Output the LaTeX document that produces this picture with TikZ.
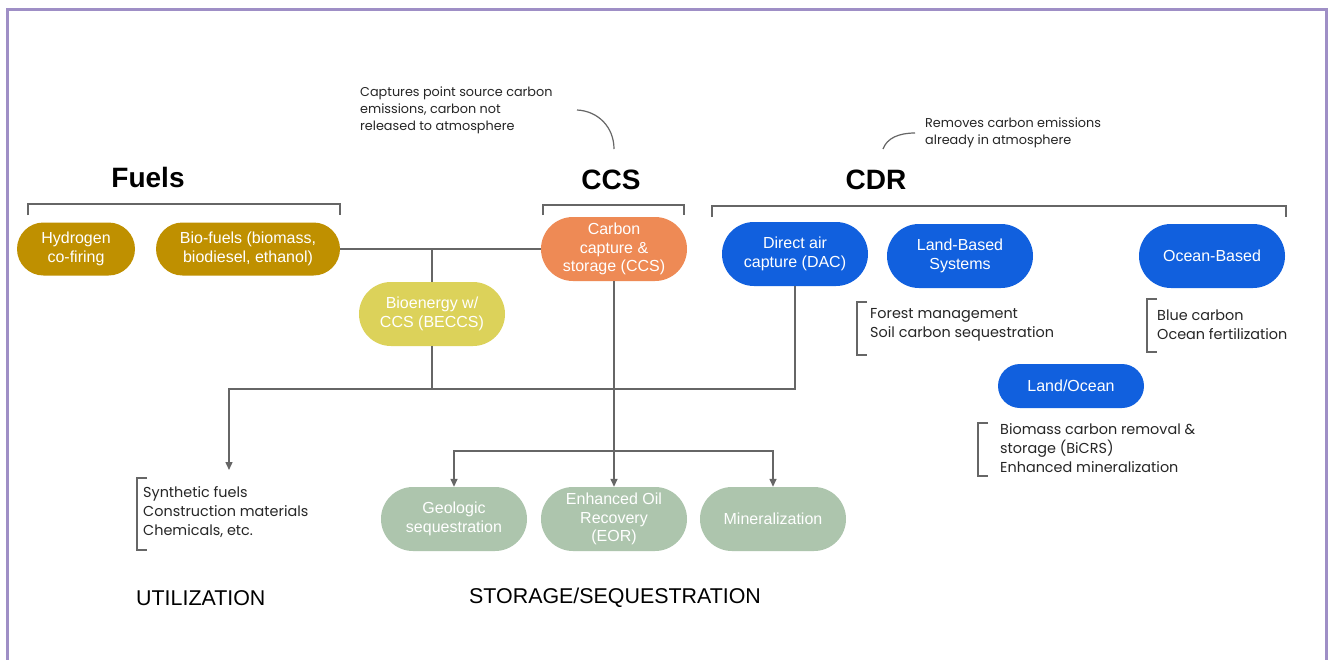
\documentclass[tikz,border=0pt]{standalone}
\usepackage{fontspec}
\setmainfont{Liberation Sans}
\newfontfamily\notefont{Poppins}
\usetikzlibrary{shapes.misc,arrows.meta}
\definecolor{mustard}{HTML}{BF9000}
\definecolor{ccsorange}{HTML}{EE8A55}
\definecolor{beccsyel}{HTML}{DCD25A}
\definecolor{cdrblue}{HTML}{1160DE}
\definecolor{sage}{HTML}{ADC5AD}
\definecolor{linegray}{HTML}{666666}
\definecolor{framepurple}{HTML}{9F8FC6}
\tikzset{
  pill/.style={rounded rectangle, draw=none, text=white, align=center,
    inner sep=0pt, font=\fontsize{16}{18.6}\selectfont},
  conn/.style={draw=linegray, line width=1.4pt},
  arr/.style={conn, -{Triangle[length=8pt,width=7pt]}},
  brk/.style={draw=linegray, line width=1.2pt},
  heading/.style={font=\fontsize{28}{32}\selectfont\bfseries},
  note/.style={font=\notefont\fontsize{12.8}{17}\selectfont, align=left, anchor=west, inner sep=0pt, text=black!85},
  listtxt/.style={font=\notefont\fontsize{14.4}{19}\selectfont, align=left, anchor=west, inner sep=0pt, text=black!85},
  section/.style={font=\fontsize{21.4}{24}\selectfont, anchor=west, inner sep=0pt},
}
\begin{document}
\begin{tikzpicture}[x=1pt,y=-1pt]
\useasboundingbox (0,0) rectangle (1334,659);
\fill[white] (0,0) rectangle (1334,659);
% frame
\draw[framepurple, line width=3pt] (7,662) -- (7,9) -- (1326,9) -- (1326,662);

% headings
\node[heading] (hfuels) at (148,177) {Fuels};
\node[heading] (hccs) at (611,180) {CCS};
\node[heading] (hcdr) at (876,180) {CDR};

% brackets under headings
\draw[brk] (28,215) -- (28,204) -- (340,204) -- (340,215);
\draw[brk] (543,215) -- (543,205) -- (684,205) -- (684,215);
\draw[brk] (712,217) -- (712,206) -- (1286,206) -- (1286,217);

% annotations
\node[note] (noteccs) at (360,110) {Captures point source carbon\\emissions, carbon not\\released to atmosphere};
\node[note] (notecdr) at (925,132.5) {Removes carbon emissions\\already in atmosphere};
\coordinate (c1a) at (577,110);
\coordinate (c1b) at (614,149);
\draw[linegray, line width=1.2pt] (c1a) .. controls (598,111) and (614,127) .. (c1b);
\coordinate (c2a) at (883,149);
\coordinate (c2b) at (915,133);
\draw[linegray, line width=1.2pt] (c2a) .. controls (887,138) and (899,133) .. (c2b);

% nodes
\node[pill, fill=mustard, minimum width=118pt, minimum height=53pt] (hyd) at (76,249) {Hydrogen\\co-firing};
\node[pill, fill=mustard, minimum width=184pt, minimum height=53pt] (bio) at (248,249) {Bio-fuels (biomass,\\biodiesel, ethanol)};
\node[pill, fill=ccsorange, minimum width=146pt, minimum height=64pt] (ccs) at (614,249) {Carbon\\capture \&\\storage (CCS)};
\node[pill, fill=beccsyel, minimum width=146pt, minimum height=64pt] (beccs) at (432,314) {Bioenergy w/\\CCS (BECCS)};
\node[pill, fill=cdrblue, minimum width=146pt, minimum height=64pt] (dac) at (795,254) {Direct air\\capture (DAC)};
\node[pill, fill=cdrblue, minimum width=146pt, minimum height=64pt] (land) at (960,256) {Land-Based\\Systems};
\node[pill, fill=cdrblue, minimum width=146pt, minimum height=64pt] (ocean) at (1212,256) {Ocean-Based};
\node[pill, fill=cdrblue, minimum width=146pt, minimum height=44pt] (lo) at (1071,386) {Land/Ocean};
\node[pill, fill=sage, minimum width=146pt, minimum height=64pt] (geo) at (454,519) {Geologic\\sequestration};
\node[pill, fill=sage, minimum width=146pt, minimum height=64pt] (eor) at (614,519) {Enhanced Oil\\Recovery\\(EOR)};
\node[pill, fill=sage, minimum width=146pt, minimum height=64pt] (min) at (773,519) {Mineralization};

% lists
\node[listtxt] (landlist) at (870,324.5) {Forest management\\Soil carbon sequestration};
\draw[brk] (867,302) -- (857,302) -- (857,355) -- (867,355);
\node[listtxt] (oceanlist) at (1157,324.5) {Blue carbon\\Ocean fertilization};
\draw[brk] (1157,299) -- (1147,299) -- (1147,352) -- (1157,352);
\node[listtxt] (lolist) at (1000,448) {Biomass carbon removal \&\\storage (BiCRS)\\Enhanced mineralization};
\draw[brk] (988,423) -- (978,423) -- (978,476) -- (988,476);
\node[listtxt] (utillist) at (143,512) {Synthetic fuels\\Construction materials\\Chemicals, etc.};
\draw[brk] (147,478) -- (137,478) -- (137,550) -- (147,550);

% section labels
\node[section] (util) at (136,598) {UTILIZATION};
\node[section] (stor) at (469,598) {STORAGE/SEQUESTRATION};

% connectors
\coordinate (j1) at (432,249);
\coordinate (j2) at (432,389);
\coordinate (jl) at (229,389);
\coordinate (utilend) at (229,470);
\coordinate (j3) at (614,451);
\draw[conn] (bio.east) -- (ccs.west);
\draw[conn] (j1) -- (beccs.north);
\draw[conn] (beccs.south) -- (j2);
\draw[arr] (dac.south) |- (jl) -- (utilend);
\draw[arr] (ccs.south) -- (eor.north);
\draw[arr] (j3) -| (geo.north);
\draw[arr] (j3) -| (min.north);
\end{tikzpicture}
\end{document}
